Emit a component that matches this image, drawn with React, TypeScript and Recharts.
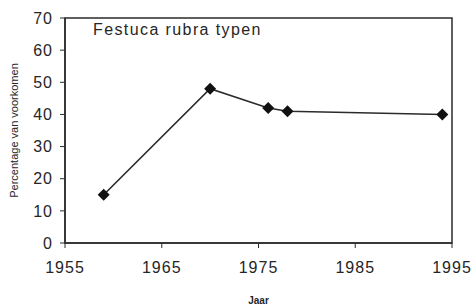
import React from 'react'
import { LineChart, Line, XAxis, YAxis, ReferenceArea, Customized, Label } from 'recharts'

const years = [1959, 1970, 1976, 1978, 1994]
const percentages = [15, 48, 42, 41, 40]
const xTicks = [1955, 1965, 1975, 1985, 1995]
const yTicks = [0, 10, 20, 30, 40, 50, 60, 70]

const data = years.map((year, i) => ({ year, value: percentages[i] }))

const INK = '#2b2b2b'
const TEXT = '#262626'
const FONT = 'Arial, "Liberation Sans", Helvetica, sans-serif'

// diamond marker, centred on the point the library gives us
const Diamond = (props: any) => {
  const { cx, cy } = props
  if (cx == null || cy == null) return null
  const r = 6
  return (
    <polygon
      points={`${cx},${cy - r} ${cx + r},${cy} ${cx},${cy + r} ${cx - r},${cy}`}
      fill="#111"
    />
  )
}

export default function App() {
  return (
    <div style={{ position: 'absolute', left: 0, top: 0, background: '#fff' }}>
      <LineChart width={476} height={305} data={data} margin={{ top: 18, right: 24, bottom: 0, left: 0 }}>
        <ReferenceArea x1={1955} x2={1995} y1={0} y2={70} fill="none" stroke={INK} strokeWidth={1.5} ifOverflow="visible" />
        <XAxis
          dataKey="year"
          type="number"
          domain={[1955, 1995]}
          ticks={xTicks}
          height={62}
          axisLine={{ stroke: INK, strokeWidth: 1.5 }}
          tickLine={{ stroke: INK }}
          tickSize={5}
          tickMargin={14}
          tick={{ fill: TEXT, fontSize: 16, fontFamily: FONT, letterSpacing: 1 }}
        >
          <Label value="Jaar" position="insideBottom" offset={1} style={{ fill: TEXT, fontSize: 10, fontWeight: 'bold', fontFamily: FONT }} />
        </XAxis>
        <YAxis
          type="number"
          domain={[0, 70]}
          ticks={yTicks}
          width={65}
          axisLine={{ stroke: INK, strokeWidth: 1.5 }}
          tickLine={{ stroke: INK }}
          tickSize={5}
          tickMargin={7}
          tick={{ fill: TEXT, fontSize: 16, fontFamily: FONT, letterSpacing: 1 }}
        >
          <Label
            value="Percentage van voorkomen"
            angle={-90}
            position="insideLeft"
            offset={14}
            style={{ textAnchor: 'middle', fill: TEXT, fontSize: 11, fontFamily: FONT }}
          />
        </YAxis>
        <Line
          type="linear"
          dataKey="value"
          stroke={INK}
          strokeWidth={1.6}
          dot={<Diamond />}
          activeDot={false}
          isAnimationActive={false}
        />
        <Customized
          component={() => (
            <text x={93} y={35} fill={TEXT} fontSize={16} fontFamily={FONT} letterSpacing={1.4}>
              Festuca rubra typen
            </text>
          )}
        />
      </LineChart>
    </div>
  )
}
